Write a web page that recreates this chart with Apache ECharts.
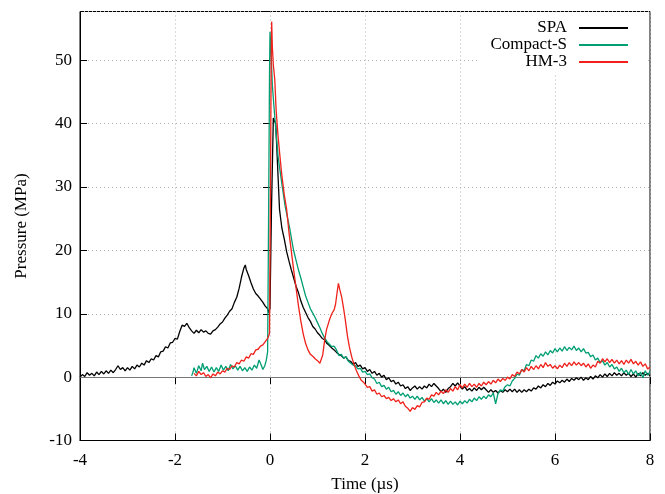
<!DOCTYPE html>
<html><head><meta charset="utf-8">
<script src="https://cdn.jsdelivr.net/npm/echarts@6/dist/echarts.min.js"></script>
<style>html,body{margin:0;padding:0;background:#fff}#c{width:665px;height:494px}</style>
</head><body><div id="c"></div>
<script>
const seriesNames = ['SPA', 'Compact-S', 'HM-3'];
const seriesColors = ['#000000', '#009e73', '#f0201a'];
const xRange = [-4, 8, 2];
const yRange = [-10, 57.7, 10];

const spaData = [
[-4.00,0.0],[-3.95,0.4],[-3.90,0.1],[-3.85,0.7],[-3.80,0.3],[-3.75,0.6],[-3.70,0.2],[-3.65,0.8],[-3.60,0.4],[-3.55,0.9],
[-3.50,0.5],[-3.45,1.0],[-3.40,0.6],[-3.35,1.1],[-3.30,0.7],[-3.25,1.2],[-3.20,1.8],[-3.15,1.2],[-3.10,1.5],[-3.05,1.0],
[-3.00,1.5],[-2.95,1.1],[-2.90,1.7],[-2.85,1.3],[-2.80,1.9],[-2.75,1.6],[-2.70,2.2],[-2.65,1.9],[-2.60,2.6],[-2.55,2.3],
[-2.50,2.9],[-2.45,2.7],[-2.40,3.4],[-2.35,3.2],[-2.30,4.0],[-2.25,4.1],[-2.20,4.8],[-2.15,4.6],[-2.10,5.4],[-2.05,5.5],
[-2.00,6.1],[-1.95,6.0],[-1.90,7.2],[-1.85,8.2],[-1.80,8.0],[-1.75,8.5],[-1.70,7.8],[-1.65,7.3],[-1.60,6.9],[-1.55,7.4],
[-1.50,7.0],[-1.45,7.5],[-1.40,7.1],[-1.35,7.3],[-1.30,6.9],[-1.25,6.8],[-1.20,7.3],[-1.15,7.5],[-1.10,7.9],[-1.05,8.4],
[-1.00,8.7],[-0.95,9.3],[-0.90,9.8],[-0.85,10.4],[-0.80,10.8],[-0.75,11.8],[-0.70,12.6],[-0.65,14.0],[-0.60,15.8],[-0.55,17.2],
[-0.52,17.7],[-0.50,17.0],[-0.45,16.0],[-0.40,14.9],[-0.35,13.9],[-0.30,13.2],[-0.25,12.8],[-0.20,12.3],[-0.15,11.8],[-0.10,11.2],
[-0.05,10.8],[-0.02,10.1],[0.00,11.0],[0.03,26.0],[0.07,40.9],[0.12,40.0],[0.15,35.0],[0.20,26.5],[0.25,23.5],[0.30,21.8],
[0.35,19.8],[0.40,18.3],[0.45,16.9],[0.50,15.6],[0.55,14.3],[0.60,13.3],[0.65,12.0],[0.70,11.0],[0.75,10.2],[0.80,9.4],
[0.85,8.8],[0.90,8.0],[0.95,7.6],[1.00,7.0],[1.05,6.6],[1.10,6.1],[1.15,5.9],[1.20,5.3],[1.25,5.0],[1.30,4.6],
[1.35,4.3],[1.40,3.9],[1.45,3.6],[1.50,3.4],[1.55,3.0],[1.60,3.2],[1.65,2.6],[1.70,2.5],[1.75,2.0],[1.80,2.3],
[1.85,1.7],[1.90,1.9],[1.95,1.3],[2.00,1.5],[2.05,0.9],[2.10,1.2],[2.15,0.6],[2.20,0.9],[2.25,0.3],[2.30,0.6],
[2.35,0.0],[2.40,0.3],[2.45,-0.4],[2.50,-0.1],[2.55,-0.7],[2.60,-0.5],[2.65,-1.1],[2.70,-0.8],[2.75,-1.4],[2.80,-1.2],
[2.85,-1.8],[2.90,-1.5],[2.95,-2.1],[3.00,-1.7],[3.05,-1.4],[3.10,-1.9],[3.15,-1.5],[3.20,-1.9],[3.25,-1.4],[3.30,-1.7],
[3.35,-1.1],[3.40,-1.5],[3.45,-1.0],[3.50,-1.4],[3.55,-1.8],[3.60,-2.3],[3.65,-1.9],[3.70,-2.4],[3.75,-1.8],[3.80,-1.5],
[3.85,-1.0],[3.90,-1.4],[3.95,-0.9],[4.00,-1.4],[4.05,-1.9],[4.10,-1.5],[4.15,-2.1],[4.20,-1.8],[4.25,-2.2],[4.30,-1.7],
[4.35,-2.1],[4.40,-1.6],[4.45,-2.0],[4.50,-1.6],[4.55,-2.0],[4.60,-2.4],[4.65,-2.0],[4.70,-2.4],[4.75,-2.1],[4.80,-2.5],
[4.85,-2.1],[4.90,-2.4],[4.95,-2.0],[5.00,-2.3],[5.05,-1.9],[5.10,-2.3],[5.15,-1.9],[5.20,-2.4],[5.25,-2.0],[5.30,-2.4],
[5.35,-2.0],[5.40,-2.3],[5.45,-1.9],[5.50,-2.2],[5.55,-1.7],[5.60,-1.9],[5.65,-1.4],[5.70,-1.7],[5.75,-1.2],[5.80,-1.5],
[5.85,-1.0],[5.90,-1.3],[5.95,-0.8],[6.00,-1.1],[6.05,-0.6],[6.10,-0.9],[6.15,-0.5],[6.20,-0.8],[6.25,-0.3],[6.30,-0.7],
[6.35,-0.2],[6.40,-0.5],[6.45,-0.1],[6.50,-0.4],[6.55,0.0],[6.60,-0.5],[6.65,-0.1],[6.70,-0.4],[6.75,0.1],[6.80,-0.3],
[6.85,0.2],[6.90,-0.1],[6.95,0.4],[7.00,0.0],[7.05,0.5],[7.10,0.1],[7.15,0.6],[7.20,0.2],[7.25,0.7],[7.30,0.3],
[7.35,0.6],[7.40,0.2],[7.45,0.7],[7.50,0.3],[7.55,0.6],[7.60,0.1],[7.65,0.5],[7.70,0.0],[7.75,0.6],[7.80,0.2],
[7.85,0.7],[7.90,0.3],[7.95,0.6],[8.00,0.2]
];

const compactData = [
[-1.65,0.2],[-1.62,0.8],[-1.60,1.5],[-1.55,0.6],[-1.50,1.8],[-1.45,1.0],[-1.42,2.2],[-1.38,1.2],[-1.33,1.7],[-1.28,0.9],
[-1.23,1.6],[-1.18,0.8],[-1.13,1.5],[-1.08,0.9],[-1.03,1.9],[-0.98,1.1],[-0.93,1.7],[-0.88,1.0],[-0.83,2.0],[-0.78,1.3],
[-0.73,1.8],[-0.68,1.1],[-0.63,1.7],[-0.58,1.0],[-0.53,1.5],[-0.48,0.9],[-0.43,1.6],[-0.38,1.1],[-0.33,1.9],[-0.28,1.4],
[-0.23,2.7],[-0.19,2.0],[-0.15,1.2],[-0.11,1.8],[-0.08,2.6],[-0.05,4.0],[-0.03,25.0],[-0.01,48.0],[0.00,54.5],[0.02,51.6],
[0.05,46.0],[0.10,41.1],[0.17,34.8],[0.25,30.5],[0.32,26.9],[0.36,25.5],[0.39,25.2],[0.42,23.3],[0.46,21.5],[0.50,19.9],
[0.55,18.4],[0.60,16.9],[0.65,15.6],[0.70,14.2],[0.75,12.8],[0.80,11.8],[0.85,10.8],[0.90,10.1],[0.95,9.4],[1.00,8.6],
[1.05,7.8],[1.10,6.9],[1.15,6.2],[1.20,5.6],[1.25,5.2],[1.30,4.8],[1.35,4.9],[1.40,4.3],[1.45,3.4],[1.50,3.6],
[1.55,3.0],[1.60,3.2],[1.65,2.5],[1.70,2.2],[1.75,1.9],[1.80,1.8],[1.85,1.3],[1.90,1.4],[1.95,0.8],[2.00,0.9],
[2.05,0.4],[2.10,0.5],[2.15,-0.1],[2.20,-0.3],[2.25,-1.0],[2.30,-0.8],[2.35,-1.5],[2.40,-1.3],[2.45,-1.9],[2.50,-1.6],
[2.55,-2.3],[2.60,-2.1],[2.65,-2.7],[2.70,-2.3],[2.75,-2.9],[2.80,-2.5],[2.85,-3.1],[2.90,-2.7],[2.95,-3.3],[3.00,-3.0],
[3.05,-3.5],[3.10,-3.0],[3.15,-3.6],[3.20,-3.2],[3.25,-3.8],[3.30,-3.4],[3.35,-3.9],[3.40,-3.4],[3.45,-4.0],[3.50,-3.6],
[3.55,-4.1],[3.60,-3.6],[3.65,-4.2],[3.70,-3.7],[3.75,-4.3],[3.80,-3.8],[3.85,-4.3],[3.90,-3.9],[3.95,-4.4],[4.00,-3.8],
[4.05,-4.2],[4.10,-3.7],[4.15,-4.1],[4.20,-3.5],[4.25,-3.9],[4.30,-3.3],[4.35,-3.7],[4.40,-3.1],[4.45,-3.5],[4.50,-3.0],
[4.55,-3.4],[4.60,-2.8],[4.65,-3.1],[4.70,-2.5],[4.75,-4.2],[4.80,-2.6],[4.85,-2.0],[4.90,-2.2],[4.95,-1.5],[5.00,-1.2],
[5.05,-1.4],[5.10,-0.6],[5.15,-0.2],[5.20,0.5],[5.25,0.3],[5.30,1.2],[5.35,1.0],[5.40,2.0],[5.45,1.8],[5.50,2.7],
[5.55,2.5],[5.60,3.4],[5.65,3.0],[5.70,3.7],[5.75,3.3],[5.80,4.0],[5.85,3.5],[5.90,4.2],[5.95,3.8],[6.00,4.5],
[6.05,4.0],[6.10,4.6],[6.15,4.1],[6.20,4.8],[6.25,4.2],[6.30,4.7],[6.35,4.3],[6.40,4.9],[6.45,4.2],[6.50,4.6],
[6.55,4.0],[6.60,4.5],[6.65,3.8],[6.70,3.9],[6.75,3.2],[6.80,3.5],[6.85,2.7],[6.90,3.0],[6.95,2.3],[7.00,2.6],
[7.05,1.9],[7.10,2.3],[7.15,1.6],[7.20,2.0],[7.25,1.3],[7.30,1.6],[7.35,0.9],[7.40,1.4],[7.45,0.7],[7.50,1.1],
[7.55,0.4],[7.60,1.2],[7.65,0.5],[7.70,1.0],[7.75,0.2],[7.80,0.8],[7.85,-0.1],[7.90,1.0],[7.95,0.3],[8.00,0.9]
];

const hmData = [
[-1.60,0.6],[-1.55,0.2],[-1.50,0.9],[-1.45,0.4],[-1.40,0.7],[-1.35,0.1],[-1.30,0.4],[-1.25,-0.1],[-1.20,0.5],[-1.15,0.2],
[-1.10,0.8],[-1.05,0.5],[-1.00,1.0],[-0.95,0.8],[-0.90,1.4],[-0.85,1.2],[-0.80,1.8],[-0.75,1.6],[-0.70,2.3],[-0.65,2.1],
[-0.60,2.7],[-0.55,2.5],[-0.50,3.2],[-0.45,3.0],[-0.40,3.7],[-0.35,3.6],[-0.30,4.3],[-0.25,4.4],[-0.20,4.9],[-0.15,5.1],
[-0.10,5.6],[-0.05,6.1],[-0.01,6.9],[0.01,30.0],[0.025,50.0],[0.035,56.1],[0.05,52.0],[0.07,49.3],[0.10,47.0],[0.13,42.0],
[0.17,38.0],[0.21,34.8],[0.25,31.8],[0.30,28.8],[0.35,26.5],[0.40,22.8],[0.45,19.8],[0.50,16.8],[0.55,14.0],[0.60,11.2],
[0.65,8.8],[0.70,6.8],[0.75,5.3],[0.80,4.3],[0.85,3.6],[0.90,3.3],[0.95,2.9],[1.00,2.6],[1.05,2.2],[1.08,2.0],
[1.11,3.5],[1.15,5.8],[1.19,7.5],[1.25,9.0],[1.30,10.0],[1.35,10.6],[1.38,11.5],[1.41,13.2],[1.44,14.8],[1.47,13.8],
[1.51,12.6],[1.55,10.8],[1.59,8.8],[1.63,6.5],[1.67,4.8],[1.72,3.2],[1.77,2.0],[1.82,1.0],[1.87,0.2],[1.92,-0.5],
[1.97,-0.8],[2.00,-1.0],[2.05,-1.6],[2.10,-1.5],[2.15,-2.2],[2.20,-2.0],[2.25,-2.7],[2.30,-2.5],[2.35,-3.1],[2.40,-2.9],
[2.45,-3.4],[2.50,-3.2],[2.55,-3.7],[2.60,-3.4],[2.65,-3.9],[2.70,-3.6],[2.75,-4.2],[2.80,-3.9],[2.85,-4.6],[2.90,-4.9],
[2.95,-5.4],[3.00,-4.8],[3.05,-5.1],[3.10,-4.5],[3.15,-4.7],[3.20,-4.0],[3.25,-3.9],[3.30,-3.3],[3.35,-3.5],[3.40,-2.8],
[3.45,-3.0],[3.50,-2.4],[3.55,-2.8],[3.60,-2.2],[3.65,-2.6],[3.70,-2.0],[3.75,-2.4],[3.80,-1.8],[3.85,-2.2],[3.90,-1.5],
[3.95,-2.0],[4.00,-1.2],[4.05,-1.7],[4.10,-1.1],[4.15,-1.6],[4.20,-1.0],[4.25,-1.5],[4.30,-1.1],[4.35,-1.6],[4.40,-1.0],
[4.45,-1.4],[4.50,-0.8],[4.55,-1.2],[4.60,-0.7],[4.65,-1.1],[4.70,-0.5],[4.75,-0.9],[4.80,-0.3],[4.85,-0.7],[4.90,-0.2],
[4.95,-0.5],[5.00,0.0],[5.05,-0.3],[5.10,0.4],[5.15,0.1],[5.20,0.8],[5.25,0.5],[5.30,1.2],[5.35,0.8],[5.40,1.5],
[5.45,1.0],[5.50,1.7],[5.55,1.2],[5.60,1.8],[5.65,1.3],[5.70,2.0],[5.75,1.5],[5.80,2.3],[5.85,1.7],[5.90,2.0],
[5.95,1.4],[6.00,1.8],[6.05,1.3],[6.10,1.9],[6.15,1.5],[6.20,2.2],[6.25,1.7],[6.30,2.3],[6.35,1.8],[6.40,2.4],
[6.45,1.9],[6.50,2.3],[6.55,1.8],[6.60,2.2],[6.65,1.6],[6.70,2.1],[6.75,1.4],[6.80,1.9],[6.85,1.6],[6.90,2.5],
[6.95,2.2],[7.00,2.9],[7.05,2.4],[7.10,2.9],[7.15,2.3],[7.20,2.8],[7.25,2.2],[7.30,2.7],[7.35,2.1],[7.40,2.6],
[7.45,2.0],[7.50,2.7],[7.55,2.2],[7.60,2.8],[7.65,2.1],[7.70,2.5],[7.75,1.9],[7.80,2.4],[7.85,1.7],[7.90,2.1],
[7.95,1.3],[8.00,1.6]
];

const allData = [spaData, compactData, hmData];
const FONT = 'Liberation Serif';
const chart = echarts.init(document.getElementById('c'), null, {renderer: 'canvas'});

const legendTops = [19.5, 36.5, 53.5];
const legends = seriesNames.map((n, i) => ({
  data: [n], right: 37, top: legendTops[i], orient: 'vertical', align: 'right',
  padding: 0, itemGap: 0, itemWidth: 49, itemHeight: 2, icon: 'rect',
  selectedMode: false,
  textStyle: {fontFamily: FONT, fontSize: 17, color: '#000', padding: [0, 7, 0, 0]}
}));

const splitStyle = {show: true, lineStyle: {color: '#b4b4b4', type: [1, 3], width: 1}};
const tickStyle = {show: true, inside: true, length: 7, lineStyle: {color: '#000'}};

const series = seriesNames.map((n, i) => ({
  name: n, type: 'line', data: allData[i], showSymbol: false, symbol: 'none',
  lineStyle: {color: seriesColors[i], width: 1.3}, itemStyle: {color: seriesColors[i]},
  z: 3 + i, animation: false
}));
series.unshift({
  name: 'zero', type: 'line', data: [], z: 1, silent: true,
  markLine: {silent: true, symbol: ['none', 'none'], animation: false, z: 1,
    label: {show: false}, lineStyle: {color: '#777', type: 'solid', width: 1},
    data: [{yAxis: 0}]}
});

chart.setOption({
  animation: false,
  backgroundColor: '#fff',
  grid: {left: 80, right: 15, top: 11.5, bottom: 53.5, containLabel: false, outerBoundsMode: 'none',
         show: true, borderColor: '#000', borderWidth: 1, backgroundColor: 'transparent'},
  legend: legends,
  graphic: [{type: 'rect', left: 478, top: 13, shape: {width: 170, height: 60}, style: {fill: '#fff'}, z: 3, silent: true}],
  xAxis: [
    {type: 'value', min: xRange[0], max: xRange[1], interval: xRange[2], position: 'bottom',
     name: 'Time (µs)', nameLocation: 'middle', nameGap: 36,
     nameTextStyle: {fontFamily: FONT, fontSize: 17, color: '#000'},
     axisLine: {show: true, onZero: false, lineStyle: {color: '#000'}},
     axisTick: tickStyle, splitLine: splitStyle,
     axisLabel: {fontFamily: FONT, fontSize: 17, color: '#000', margin: 12}},
    {type: 'value', min: xRange[0], max: xRange[1], interval: xRange[2], position: 'top',
     axisLine: {show: false}, axisTick: tickStyle, splitLine: {show: false}, axisLabel: {show: false}}
  ],
  yAxis: [
    {type: 'value', min: yRange[0], max: yRange[1], interval: yRange[2], position: 'left',
     name: 'Pressure (MPa)', nameLocation: 'middle', nameGap: 50, nameRotate: 90,
     nameTextStyle: {fontFamily: FONT, fontSize: 17, color: '#000'},
     axisLine: {show: true, onZero: false, lineStyle: {color: '#000'}},
     axisTick: tickStyle, splitLine: splitStyle,
     axisLabel: {fontFamily: FONT, fontSize: 17, color: '#000', margin: 8, showMaxLabel: false,
       formatter: v => (Math.abs(v % 10) < 1e-9 ? String(v) : '')}},
    {type: 'value', min: yRange[0], max: yRange[1], interval: yRange[2], position: 'right',
     axisLine: {show: false}, axisTick: tickStyle, splitLine: {show: false}, axisLabel: {show: false}}
  ],
  series: series
});
</script></body></html>
